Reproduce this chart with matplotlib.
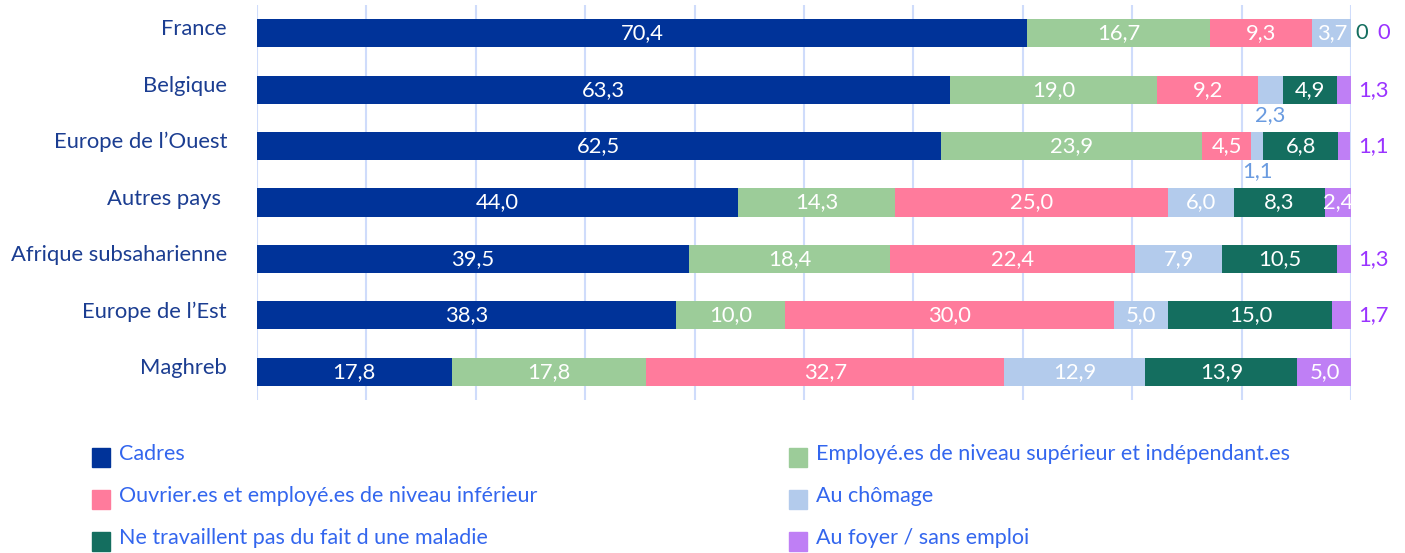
import numpy as np
import matplotlib.pyplot as plt
from matplotlib.patches import Rectangle
from matplotlib.transforms import blended_transform_factory

plt.rcParams['font.family'] = ['Lato', 'DejaVu Sans']

# =========================
# DATA
# =========================
categories = ["France", "Belgique", "Europe de l’Ouest", "Autres pays ",
              "Afrique subsaharienne", "Europe de l’Est", "Maghreb"]

series_names = ["Cadres",
                "Employé.es de niveau supérieur et indépendant.es",
                "Ouvrier.es et employé.es de niveau inférieur",
                "Au chômage",
                "Ne travaillent pas du fait d une maladie",
                "Au foyer / sans emploi"]

cadres   = [70.4, 63.3, 62.5, 44.0, 39.5, 38.3, 17.8]
employes = [16.7, 19.0, 23.9, 14.3, 18.4, 10.0, 17.8]
ouvriers = [9.3, 9.2, 4.5, 25.0, 22.4, 30.0, 32.7]
chomage  = [3.7, 2.3, 1.1, 6.0, 7.9, 5.0, 12.9]
maladie  = [0.0, 4.9, 6.8, 8.3, 10.5, 15.0, 13.9]
foyer    = [0.0, 1.3, 1.1, 2.4, 1.3, 1.7, 5.0]

colors = ["#003399", "#9ccc99", "#ff7b9c", "#b3cbec", "#146e5f", "#bf7ff5"]
label_out_colors = [None, None, None, "#6a9be0", "#146e5f", "#9a33ff"]

# =========================
# PLOT
# =========================
fig = plt.figure(figsize=(14.05, 5.53), dpi=100)
ax = fig.add_axes([257/1405, 1-400/553, (1351-257)/1405, 395/553])

data = [cadres, employes, ouvriers, chomage, maladie, foyer]
y = np.arange(len(categories))
left = np.zeros(len(categories))
fs = 15.8

for k, vals in enumerate(data):
    vals = np.array(vals)
    ax.barh(y, vals, left=left, height=0.5, color=colors[k], zorder=3)
    for i, v in enumerate(vals):
        txt = f"{v:.1f}".replace(".", ",")
        cx = left[i] + v / 2
        if v == 0:
            # zero values written right of the bar
            xpos = 100.4 if k == 4 else 102.4
            ax.text(xpos, i, "0", color=label_out_colors[k], fontsize=fs,
                    ha="left", va="center", clip_on=False)
        elif k == 3 and v < 3:
            ax.text(cx, i + 0.27, txt, color=label_out_colors[k], fontsize=fs,
                    ha="center", va="top", clip_on=False)
        elif k == 5 and v < 2:
            ax.text(100.7, i, txt, color=label_out_colors[k], fontsize=fs,
                    ha="left", va="center", clip_on=False)
        else:
            ax.text(cx, i, txt, color="white", fontsize=fs,
                    ha="center", va="center", clip_on=True, zorder=4)
    left = left + vals

ax.set_xlim(0, 100)
ax.set_ylim(len(categories) - 0.5, -0.5)
ax.set_xticks(np.arange(0, 101, 10))
ax.xaxis.grid(True, color="#cfdcfb", lw=1.5, zorder=0)
ax.tick_params(axis="x", length=0, labelbottom=False)
ax.set_yticks([])
for s in ax.spines.values():
    s.set_visible(False)

# category labels, a bit above the bar centre
trans = blended_transform_factory(ax.transAxes, ax.transData)
for i, cat in enumerate(categories):
    ax.text(-30/1094, i - 0.07, cat, transform=trans, fontsize=fs,
            color="#1b3d91", ha="right", va="center", clip_on=False)

# legend, two columns
leg_x = [92, 789]
leg_y = [454, 496, 538]
for k, name in enumerate(series_names):
    col, row = k % 2, k // 2
    x0 = leg_x[col] / 1405
    y0 = 1 - leg_y[row] / 553
    fig.add_artist(Rectangle((x0, y0 - 13/553), 18/1405, 19/553,
                             transform=fig.transFigure, color=colors[k]))
    fig.text(x0 + 27/1405, y0, name, color="#3366ee", fontsize=15.5,
             ha="left", va="center")

plt.savefig("out.png", dpi=100)
